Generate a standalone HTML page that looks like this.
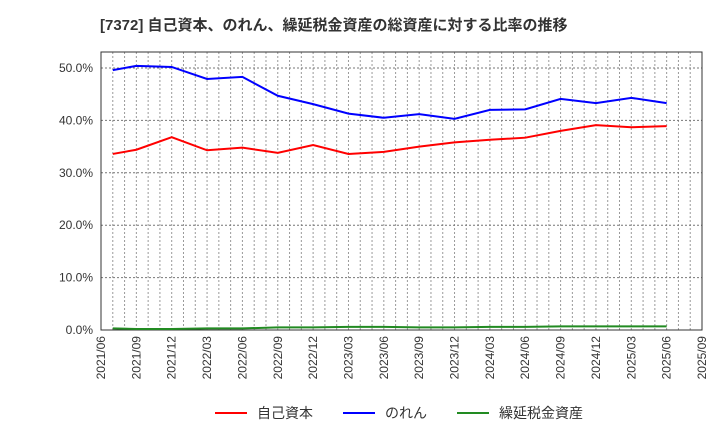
<!DOCTYPE html>
<html><head><meta charset="utf-8"><style>
body{margin:0;background:#fff;font-family:"Liberation Sans","Noto Sans CJK JP",sans-serif}
</style></head><body>
<svg width="720" height="440" xmlns="http://www.w3.org/2000/svg" font-family="Liberation Sans, Noto Sans CJK JP, sans-serif">
<text x="100" y="30" font-size="15" font-weight="bold" fill="#333">[7372]  自己資本、のれん、繰延税金資産の総資産に対する比率の推移</text>
<g id="grid"></g><g id="axes"></g><g id="series"></g>
<g font-size="14" fill="#333">
<line x1="215" y1="413" x2="247" y2="413" stroke="#f00" stroke-width="2"/><text x="257" y="418">自己資本</text>
<line x1="343" y1="413" x2="375" y2="413" stroke="#00f" stroke-width="2"/><text x="385" y="418">のれん</text>
<line x1="457" y1="413" x2="489" y2="413" stroke="#228b22" stroke-width="2"/><text x="499" y="418">繰延税金資産</text>
</g>
</svg>
<script>
const xLabels=["2021/06","2021/09","2021/12","2022/03","2022/06","2022/09","2022/12","2023/03","2023/06","2023/09","2023/12","2024/03","2024/06","2024/09","2024/12","2025/03","2025/06","2025/09"];
const months=[1,3,6,9,12,15,18,21,24,27,30,33,36,39,42,45,48];
const equity=[33.6,34.4,36.8,34.3,34.8,33.8,35.3,33.6,34.0,35.0,35.8,36.3,36.7,38.0,39.1,38.7,38.9];
const goodwill=[49.6,50.4,50.2,47.9,48.3,44.7,43.1,41.3,40.5,41.2,40.3,42.0,42.1,44.1,43.3,44.3,43.3];
const dta=[0.3,0.2,0.2,0.3,0.3,0.5,0.5,0.6,0.6,0.5,0.5,0.6,0.6,0.7,0.7,0.7,0.7];
const yTicks=[0,10,20,30,40,50];
const NS="http://www.w3.org/2000/svg";
const L=101,R=702,T=52,B=330;
const xs=m=>L+(R-L)*m/51;
const ys=v=>B-v*5.24;
function mk(t,a,p){const e=document.createElementNS(NS,t);for(const k in a)e.setAttribute(k,a[k]);p.appendChild(e);return e;}
const g=document.getElementById('grid'),ax=document.getElementById('axes'),s=document.getElementById('series');
for(let m=1;m<51;m++){const l=mk('line',{x1:xs(m),x2:xs(m),y1:T,y2:B,stroke:'#999','stroke-dasharray':'2,2','stroke-width':1},g);
}
yTicks.forEach(v=>{const l=mk('line',{x1:L,x2:R,y1:ys(v),y2:ys(v),stroke:'#777','stroke-dasharray':'2,2'},g);

const t=mk('text',{x:L-8,y:ys(v)+4,'text-anchor':'end','font-size':12,fill:'#333'},ax);t.textContent=v.toFixed(1)+'%';
});
const f=mk('rect',{x:L,y:T,width:R-L,height:B-T,fill:'none',stroke:'#333'},ax);

xLabels.forEach((lb,i)=>{const x=xs(i*3);const t=mk('text',{x:0,y:0,'text-anchor':'end','font-size':12,fill:'#333',transform:`translate(${x+4},${B+6}) rotate(-90)`},ax);t.textContent=lb;
});
[[equity,'#f00','equity-line'],[goodwill,'#00f','goodwill-line'],[dta,'#228b22','deferred-tax-line']].forEach(([d,c,n])=>{
const p=mk('polyline',{points:d.map((v,i)=>xs(months[i])+','+ys(v)).join(' '),fill:'none',stroke:c,'stroke-width':2},s);
});
</script>
</body></html>
